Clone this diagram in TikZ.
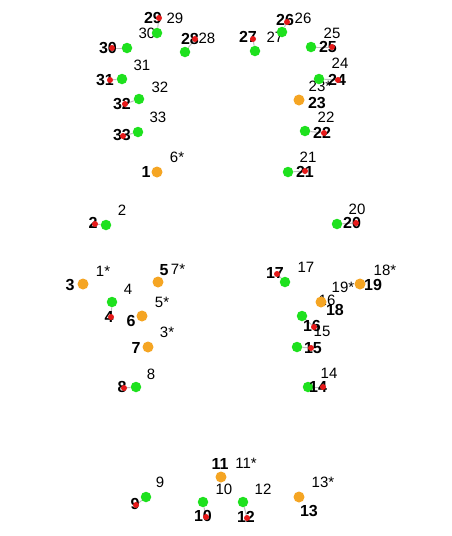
\documentclass[tikz,border=0pt]{standalone}
\usepackage{fontspec}
\setmainfont{Liberation Sans}
\definecolor{dgreen}{RGB}{30,225,30}
\definecolor{dorange}{RGB}{245,165,35}
\definecolor{dred}{RGB}{230,25,25}
\definecolor{lgray}{RGB}{190,190,190}
\tikzset{
  gdot/.style={circle,fill=dgreen,draw=none,inner sep=0pt,minimum size=10.5pt},
  odot/.style={circle,fill=dorange,draw=none,inner sep=0pt,minimum size=11pt},
  rdot/.style={circle,fill=dred,draw=none,inner sep=0pt,minimum size=6pt},
  tlab/.style={inner sep=0pt,font=\fontsize{15}{15}\selectfont,text=black},
  blab/.style={inner sep=0pt,font=\fontsize{16}{16}\selectfont\bfseries,text=black},
  conn/.style={draw=lgray,line width=1pt}
}
\begin{document}
\begin{tikzpicture}[x=1pt,y=-1pt]
\fill[white] (0,0) rectangle (452,536);
\useasboundingbox (0,0) rectangle (452,536);
% thin labels
\foreach \t/\x/\y [count=\i] in {29/175/18,30/147/33,28/207/38,31/142/65,32/160/87,33/158/117,
  26/303/18,27/275/37,25/332/33,24/340/63,23*/320/86,22/326/117,6*/177/157,21/308/157,
  2/122/210,20/357/209,1*/103/271,7*/178/269,4/128/289,5*/162/302,3*/167/332,8/151/374,
  17/306/267,18*/385/270,19*/343/287,16/327/300,15/322/331,14/329/373,9/160/482,
  11*/246/463,10/224/489,12/263/489,13*/323/482}
  \node[tlab] (t\i) at (\x,\y) {\t};
% green dots and red positions
\foreach \gx/\gy/\rx/\ry [count=\i] in {157/33/159/18,185/52/195/39,127/48/112/48,122/79/110/80,
  139/99/125/104,138/132/123/136,282/32/287/22,255/51/253/39,311/47/332/47,319/79/338/80,
  305/131/324/133,288/172/305/171,106/225/95/224,337/224/356/223,112/302/111/317,
  136/387/124/388,285/282/277/274,302/316/314/327,297/347/311/348,308/387/323/387,
  146/497/136/505,203/502/206/517,243/502/247/518}
{
  \coordinate (r\i) at (\rx,\ry);
  \node[gdot] (g\i) at (\gx,\gy) {};
  \draw[conn] (g\i) -- (r\i);
}
% orange dots
\foreach \x/\y [count=\i] in {157/172,83/284,158/282,142/316,148/347,299/100,360/284,321/302,221/477,299/497}
  \node[odot] (o\i) at (\x,\y) {};
% bold labels
\foreach \t/\x/\y [count=\i] in {29/153/18,28/190/39,30/108/48,31/105/80,32/122/104,33/122/135,
  26/285/20,27/248/37,25/328/47,24/337/80,23/317/103,22/322/133,1/146/172,21/305/172,
  2/93/223,20/352/223,3/70/285,5/164/270,4/109/317,6/131/321,7/136/348,8/122/387,
  17/275/273,19/373/285,18/335/310,16/312/326,15/313/348,14/318/387,11/220/464,
  9/135/504,10/203/516,12/246/517,13/309/511}
  \node[blab] (b\i) at (\x,\y) {\t};
% red dots
\foreach \i in {1,...,23}
  \node[rdot] (rd\i) at (r\i) {};
\end{tikzpicture}
\end{document}
